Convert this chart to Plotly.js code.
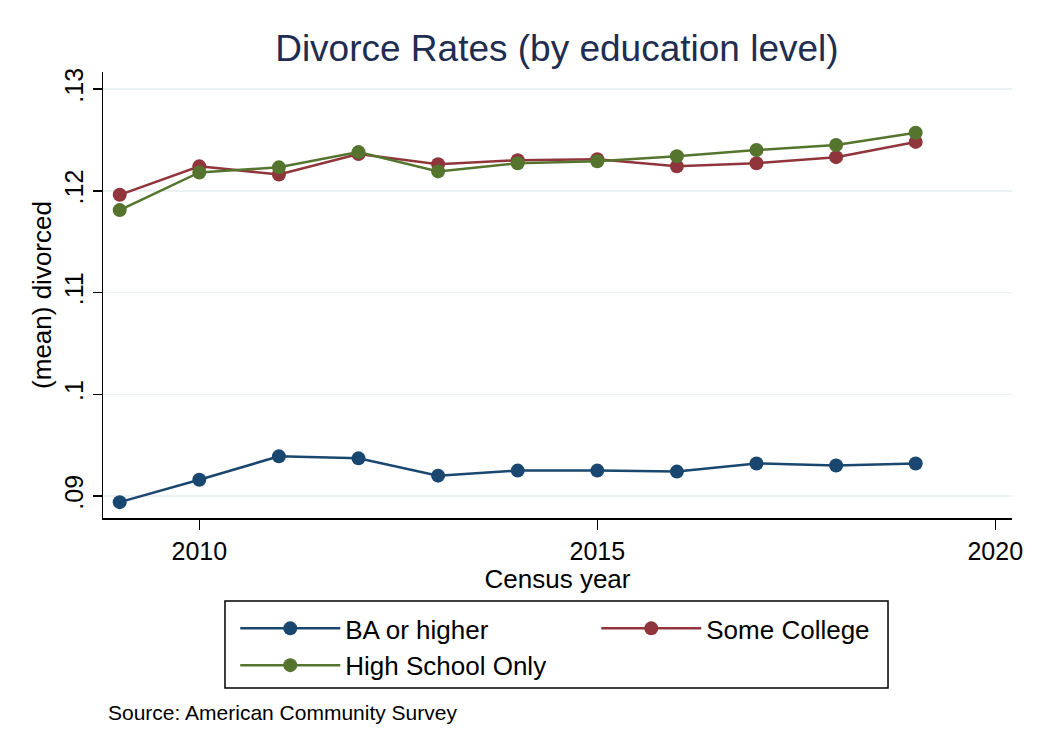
<!DOCTYPE html>
<html>
<head>
<meta charset="utf-8">
<script src="https://cdn.plot.ly/plotly-3.0.1.min.js"></script>
<style>
  html, body { margin: 0; padding: 0; background: #fff; }
  #chart { width: 1039px; height: 755px; }
</style>
</head>
<body>
<div id="chart"></div>
<script>
// census years and mean divorce share per education group
const years = [2009, 2010, 2011, 2012, 2013, 2014, 2015, 2016, 2017, 2018, 2019];
const baOrHigher = [0.0894, 0.0916, 0.0939, 0.0937, 0.0920, 0.0925, 0.0925, 0.0924, 0.0932, 0.0930, 0.0932];
const someCollege = [0.1196, 0.1224, 0.1216, 0.1236, 0.1226, 0.1230, 0.1231, 0.1224, 0.1227, 0.1233, 0.1248];
const highSchool = [0.1181, 0.1218, 0.1223, 0.1238, 0.1219, 0.1227, 0.1229, 0.1234, 0.1240, 0.1245, 0.1257];

const yTicks = [0.09, 0.10, 0.11, 0.12, 0.13];
const yTickText = ['.09', '.1', '.11', '.12', '.13'];
const xTicks = [2010, 2015, 2020];

const series = [
    { name: 'BA or higher', y: baOrHigher, color: '#1a476f' },
    { name: 'Some College', y: someCollege, color: '#90353b' },
    { name: 'High School Only', y: highSchool, color: '#55752f' },
];

const font = 'Arial, "Liberation Sans", sans-serif';

const traces = series.map(s => ({
    x: years, y: s.y, name: s.name, type: 'scatter', mode: 'lines+markers',
    line: { color: s.color, width: 2.5 },
    marker: { color: s.color, size: 14 },
}));

const layout = {
    width: 1039, height: 755,
    margin: { l: 103, r: 27, t: 72, b: 237 },
    paper_bgcolor: '#fff', plot_bgcolor: '#fff',
    font: { family: font, color: '#000', size: 25 },
    title: { text: 'Divorce Rates (by education level)', x: 0.536, xanchor: 'center', y: 0.936, yanchor: 'middle',
        font: { size: 37, color: '#1e2d50' } },
    xaxis: {
        range: [2008.79, 2020.21], tickvals: xTicks, ticks: 'outside', ticklen: 10, tickwidth: 1.5, tickcolor: '#000',
        showline: true, linecolor: '#000', linewidth: 1.5, showgrid: false, zeroline: false,
        tickfont: { size: 25 },
        title: { text: 'Census year', font: { size: 26 }, standoff: 2 },
    },
    yaxis: {
        range: [0.08784, 0.13167], tickvals: yTicks, ticktext: yTickText, tickangle: -90,
        ticks: 'outside', ticklen: 9, tickwidth: 1.5, tickcolor: '#000',
        showline: true, linecolor: '#000', linewidth: 1.5, zeroline: false,
        showgrid: true, gridcolor: '#eaf2f3', gridwidth: 1.5,
        tickfont: { size: 25 },
        title: { text: '(mean) divorced', font: { size: 26 }, standoff: 0 },
    },
    showlegend: true,
    // Stata-style two-column key; the frame is drawn as a paper shape so it can hug the text
    legend: {
        orientation: 'h', x: 0.1455, xanchor: 'left', y: -0.195, yanchor: 'top',
        entrywidth: 246, entrywidthmode: 'pixels', itemwidth: 100,
        borderwidth: 0, bgcolor: 'rgba(0,0,0,0)',
        font: { size: 26 }, traceorder: 'normal',
    },
    shapes: [{
        type: 'rect', xref: 'paper', yref: 'paper', x0: 0.1342, x1: 0.8636, y0: -0.3812, y1: -0.1861,
        line: { color: '#000', width: 1.5 }, fillcolor: 'rgba(0,0,0,0)', layer: 'above',
    }],
    annotations: [{
        text: 'Source: American Community Survey', xref: 'paper', yref: 'paper',
        x: 0.003, y: -0.437, xanchor: 'left', yanchor: 'middle', showarrow: false,
        font: { size: 21 },
    }],
};

Plotly.newPlot('chart', traces, layout, { displayModeBar: false, staticPlot: true });
</script>
</body>
</html>
